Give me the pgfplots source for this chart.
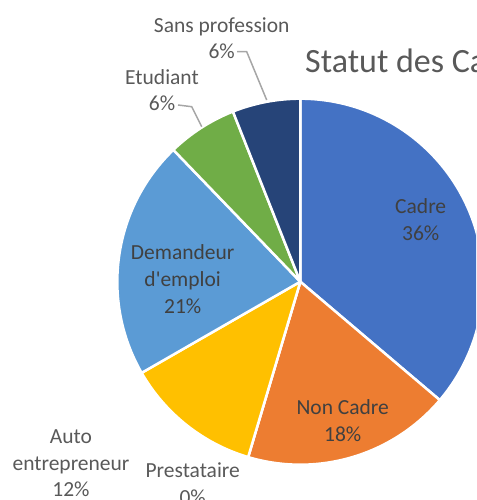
\documentclass[border=0pt]{standalone}
\usepackage{pgfplots}
\pgfplotsset{compat=1.18}
\usepackage{pgfplotstable}
\usepackage{fontspec}
\setmainfont{Carlito}

\definecolor{cadre}{HTML}{4472C4}
\definecolor{noncadre}{HTML}{ED7D31}
\definecolor{presta}{HTML}{A5A5A5}
\definecolor{auto}{HTML}{FFC000}
\definecolor{demandeur}{HTML}{5B9BD5}
\definecolor{etudiant}{HTML}{70AD47}
\definecolor{sans}{HTML}{264478}
\definecolor{txtin}{HTML}{404040}
\definecolor{txtout}{HTML}{595959}
\definecolor{leader}{HTML}{A6A6A6}

% share of each status (percent), clockwise from the top
\pgfplotstableread{
name value col
Cadre 36.2 cadre
NonCadre 18.4 noncadre
Prestataire 0 presta
Auto 12.1 auto
Demandeur 21.1 demandeur
Etudiant 6.2 etudiant
Sans 6.0 sans
}\piedata

\begin{document}
\begin{tikzpicture}
\begin{axis}[x=1pt,y=1pt,xmin=0,xmax=476,ymin=0,ymax=500,hide axis,clip=true]
\def\acc{0}
\pgfplotsforeachungrouped \i in {0,...,6}{%
  \pgfplotstablegetelem{\i}{value}\of\piedata \let\v\pgfplotsretval
  \pgfplotstablegetelem{\i}{col}\of\piedata \let\c\pgfplotsretval
  \pgfmathsetmacro\a{90-3.6*\acc}
  \pgfmathsetmacro\b{\a-3.6*\v}
  \edef\cmd{\noexpand\filldraw[fill=\c,draw=white,line width=2.5pt,line join=round]
    (axis cs:300.3,218.3) -- ++(\a:183pt) arc[start angle=\a,end angle=\b,radius=183pt] -- cycle;}
  \cmd
  \pgfmathsetmacro\acc{\acc+\v}
}
% leader lines
\draw[leader,line width=1.5pt] (axis cs:237,448.3) -- (axis cs:246.7,448.3) -- (axis cs:266.7,400);
\draw[leader,line width=1.5pt] (axis cs:178,395) -- (axis cs:191.7,393.3) -- (axis cs:201.7,373.3);
% labels
\begin{scope}[every node/.style={font=\fontsize{21.5}{26.7}\selectfont,align=center,inner sep=0pt}]
\node[txtin] at (axis cs:420.7,280.7) {Cadre\\36\%};
\node[txtin] at (axis cs:342.7,79.7) {Non Cadre\\18\%};
\node[txtin] at (axis cs:182.7,220.7) {Demandeur\\d\textquotesingle emploi\\21\%};
\node[txtout] at (axis cs:192.7,16.5) {Prestataire\\0\%};
\node[txtout] at (axis cs:71,36.7) {Auto\\entrepreneur\\12\%};
\node[txtout] at (axis cs:221.7,461.7) {Sans profession\\6\%};
\node[txtout] at (axis cs:162,410) {Etudiant\\6\%};
\end{scope}
\node[txtout,anchor=west,inner sep=0pt,font=\fontsize{34}{40}\selectfont] at (axis cs:305,439) {Statut des Candidats};
\end{axis}
\pgfresetboundingbox
\path (current axis.south west) rectangle (current axis.north east);
\end{tikzpicture}
\end{document}
